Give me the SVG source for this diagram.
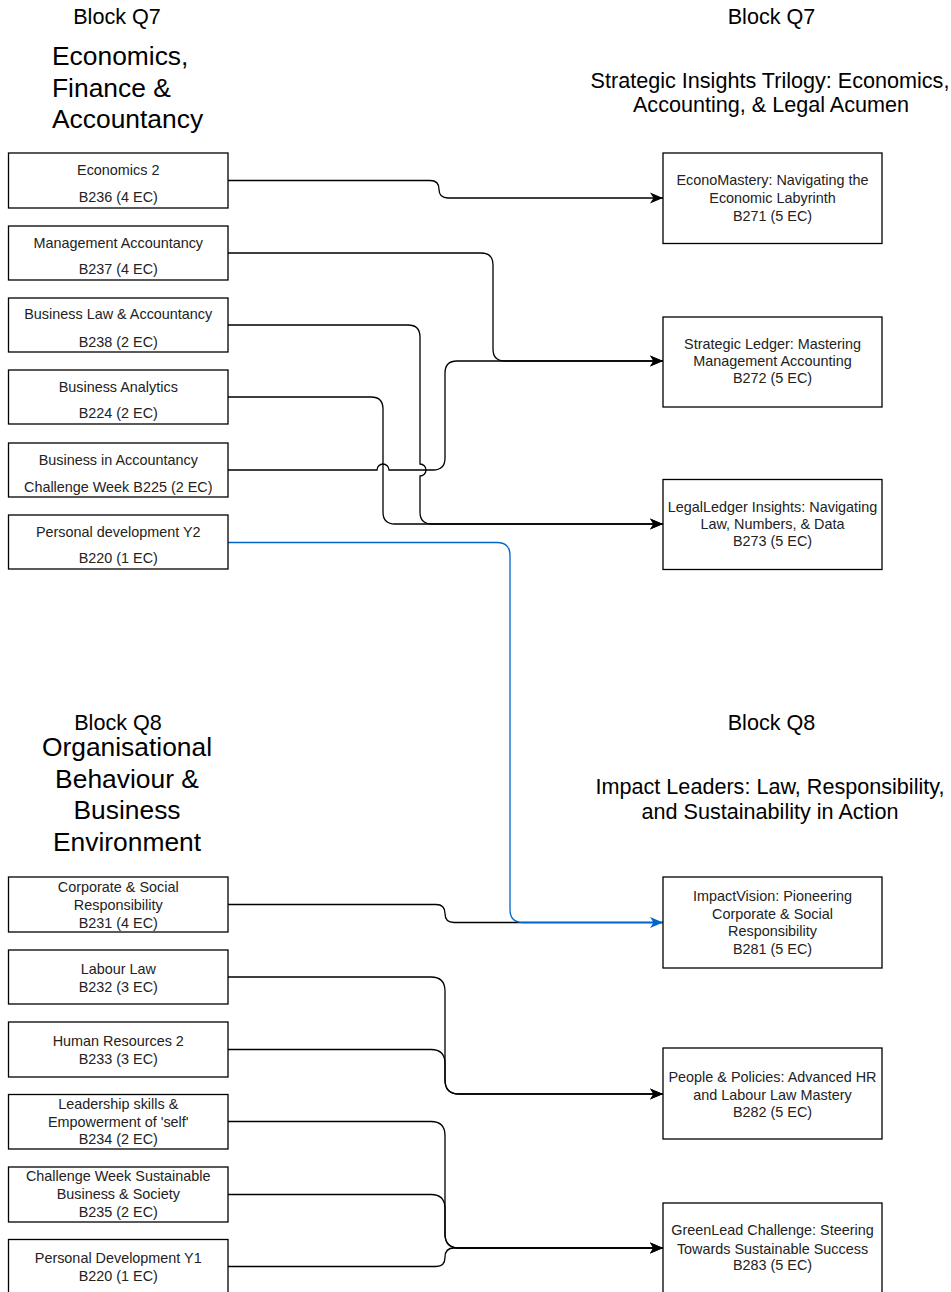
<svg xmlns="http://www.w3.org/2000/svg" width="951" height="1292" viewBox="0 0 951 1292">
<defs>
<style>
.box{fill:#fff;stroke:#000;stroke-width:1.3}
.t{font-family:"Liberation Sans",Arial,sans-serif;font-size:14.4px;fill:#222;text-anchor:middle}
.h{font-family:"Liberation Sans",Arial,sans-serif;font-size:21.6px;fill:#000;text-anchor:middle}
.big{font-family:"Liberation Sans",Arial,sans-serif;font-size:26.4px;fill:#000}
.e{fill:none;stroke:#000;stroke-width:1.3}
.eb{fill:none;stroke:#0066CC;stroke-width:1.3}
</style>
<marker id="arr" markerUnits="userSpaceOnUse" markerWidth="14" markerHeight="12" refX="13" refY="6" orient="auto">
<path d="M0,0.5 L13,6 L0,11.5 L3.5,6 Z" fill="#000"/>
</marker>
<marker id="arrb" markerUnits="userSpaceOnUse" markerWidth="14" markerHeight="12" refX="13" refY="6" orient="auto">
<path d="M0,0.5 L13,6 L0,11.5 L3.5,6 Z" fill="#0066CC"/>
</marker>
</defs>
<rect width="951" height="1292" fill="#fff"/>

<g id="titles">
<text class="h" x="117" y="23.5">Block Q7</text>
<text class="big" x="52" y="65">Economics,</text>
<text class="big" x="52" y="96.5">Finance &amp;</text>
<text class="big" x="52" y="128">Accountancy</text>
<text class="h" x="771.5" y="23.5">Block Q7</text>
<text class="h" x="770"><tspan x="770" y="87.5">Strategic Insights Trilogy: Economics,</tspan><tspan x="771" y="112">Accounting, &amp; Legal Acumen</tspan></text>
<text class="h" x="118" y="729.5">Block Q8</text>
<text class="big" text-anchor="middle"><tspan x="127" y="756">Organisational</tspan><tspan x="127" y="787.5">Behaviour &amp;</tspan><tspan x="127" y="819.3">Business</tspan><tspan x="127" y="850.7">Environment</tspan></text>
<text class="h" x="771.5" y="729.5">Block Q8</text>
<text class="h"><tspan x="770" y="793.8">Impact Leaders: Law, Responsibility,</tspan><tspan x="770" y="818.5">and Sustainability in Action</tspan></text>
</g>

<g id="connectors">
<path class="e" marker-end="url(#arr)" d="M228,180.5 H430 Q439,180.5 439,189.25 Q439,198 448,198 H663"/>
<path class="e" marker-end="url(#arr)" d="M228,253 H481 Q493,253 493,265 V349 Q493,361 505,361 H663"/>
<path class="e" marker-end="url(#arr)" d="M228,325 H408 Q420,325 420,337 V464 A6,6 0 0 1 420,476 V512 Q420,524 432,524 H663"/>
<path class="e" marker-end="url(#arr)" d="M228,397 H371 Q383,397 383,409 V512 Q383,524 395,524 H663"/>
<path class="e" marker-end="url(#arr)" d="M228,470 H377 A6,6 0 0 1 389,470 H433 Q445,470 445,458 V373 Q445,361 457,361 H663"/>
<path class="e" d="M228,904.5 H436 Q445,904.5 445,913.5 Q445,922.5 454,922.5 H663"/>
<path class="eb" marker-end="url(#arrb)" d="M228,542.5 H497 Q510,542.5 510,555.5 V909.5 Q510,922.5 523,922.5 H663"/>
<path class="e" marker-end="url(#arr)" d="M228,977 H431 Q445,977 445,991 V1080 Q445,1094 459,1094 H663"/>
<path class="e" marker-end="url(#arr)" d="M228,1049.5 H431 Q445,1049.5 445,1063.5 V1080 Q445,1094 459,1094 H663"/>
<path class="e" marker-end="url(#arr)" d="M228,1121.5 H431 Q445,1121.5 445,1135.5 V1234 Q445,1248 459,1248 H663"/>
<path class="e" marker-end="url(#arr)" d="M228,1194.5 H431 Q445,1194.5 445,1208.5 V1234 Q445,1248 459,1248 H663"/>
<path class="e" marker-end="url(#arr)" d="M228,1266.5 H436 Q445,1266.5 445,1257.25 Q445,1248 454,1248 H663"/>
</g>

<g id="n-b236"><rect class="box" x="8.5" y="153" width="219.5" height="55"/><text class="t"><tspan x="118.25" y="175">Economics 2</tspan><tspan x="118.25" y="202">B236 (4 EC)</tspan></text></g>
<g id="n-b237"><rect class="box" x="8.5" y="226" width="219.5" height="54"/><text class="t"><tspan x="118.25" y="247.5">Management Accountancy</tspan><tspan x="118.25" y="273.5">B237 (4 EC)</tspan></text></g>
<g id="n-b238"><rect class="box" x="8.5" y="298" width="219.5" height="54"/><text class="t"><tspan x="118.25" y="319">Business Law &amp; Accountancy</tspan><tspan x="118.25" y="346.5">B238 (2 EC)</tspan></text></g>
<g id="n-b224"><rect class="box" x="8.5" y="370" width="219.5" height="54"/><text class="t"><tspan x="118.25" y="392">Business Analytics</tspan><tspan x="118.25" y="418">B224 (2 EC)</tspan></text></g>
<g id="n-b225"><rect class="box" x="8.5" y="443" width="219.5" height="54"/><text class="t"><tspan x="118.25" y="465">Business in Accountancy</tspan><tspan x="118.25" y="491.5">Challenge Week B225 (2 EC)</tspan></text></g>
<g id="n-b220y2"><rect class="box" x="8.5" y="515" width="219.5" height="54"/><text class="t"><tspan x="118.25" y="536.5">Personal development Y2</tspan><tspan x="118.25" y="562.5">B220 (1 EC)</tspan></text></g>

<g id="n-b271"><rect class="box" x="663" y="153" width="219" height="90.5"/><text class="t"><tspan x="772.5" y="185">EconoMastery: Navigating the</tspan><tspan x="772.5" y="203">Economic Labyrinth</tspan><tspan x="772.5" y="220.5">B271 (5 EC)</tspan></text></g>
<g id="n-b272"><rect class="box" x="663" y="317" width="219" height="90"/><text class="t"><tspan x="772.5" y="348.5">Strategic Ledger: Mastering</tspan><tspan x="772.5" y="366">Management Accounting</tspan><tspan x="772.5" y="383">B272 (5 EC)</tspan></text></g>
<g id="n-b273"><rect class="box" x="663" y="479.5" width="219" height="90"/><text class="t"><tspan x="772.5" y="511.5">LegalLedger Insights: Navigating</tspan><tspan x="772.5" y="529">Law, Numbers, &amp; Data</tspan><tspan x="772.5" y="545.5">B273 (5 EC)</tspan></text></g>

<g id="n-b231"><rect class="box" x="8.5" y="877" width="219.5" height="55"/><text class="t"><tspan x="118.25" y="891.5">Corporate &amp; Social</tspan><tspan x="118.25" y="909.5">Responsibility</tspan><tspan x="118.25" y="927.5">B231 (4 EC)</tspan></text></g>
<g id="n-b232"><rect class="box" x="8.5" y="950" width="219.5" height="54"/><text class="t"><tspan x="118.25" y="973.5">Labour Law</tspan><tspan x="118.25" y="991.5">B232 (3 EC)</tspan></text></g>
<g id="n-b233"><rect class="box" x="8.5" y="1022" width="219.5" height="55"/><text class="t"><tspan x="118.25" y="1045.5">Human Resources 2</tspan><tspan x="118.25" y="1064">B233 (3 EC)</tspan></text></g>
<g id="n-b234"><rect class="box" x="8.5" y="1094.5" width="219.5" height="54.5"/><text class="t"><tspan x="118.25" y="1108.5">Leadership skills &amp;</tspan><tspan x="118.25" y="1126.5">Empowerment of 'self'</tspan><tspan x="118.25" y="1144">B234 (2 EC)</tspan></text></g>
<g id="n-b235"><rect class="box" x="8.5" y="1167" width="219.5" height="55"/><text class="t"><tspan x="118.25" y="1181">Challenge Week Sustainable</tspan><tspan x="118.25" y="1199">Business &amp; Society</tspan><tspan x="118.25" y="1216.5">B235 (2 EC)</tspan></text></g>
<g id="n-b220y1"><rect class="box" x="8.5" y="1239.5" width="219.5" height="55"/><text class="t"><tspan x="118.25" y="1263">Personal Development Y1</tspan><tspan x="118.25" y="1281">B220 (1 EC)</tspan></text></g>

<g id="n-b281"><rect class="box" x="663" y="877" width="219" height="91"/><text class="t"><tspan x="772.5" y="900.5">ImpactVision: Pioneering</tspan><tspan x="772.5" y="918.5">Corporate &amp; Social</tspan><tspan x="772.5" y="936">Responsibility</tspan><tspan x="772.5" y="954">B281 (5 EC)</tspan></text></g>
<g id="n-b282"><rect class="box" x="663" y="1048" width="219" height="91"/><text class="t"><tspan x="772.5" y="1081.5">People &amp; Policies: Advanced HR</tspan><tspan x="772.5" y="1099.5">and Labour Law Mastery</tspan><tspan x="772.5" y="1117">B282 (5 EC)</tspan></text></g>
<g id="n-b283"><rect class="box" x="663" y="1203" width="219" height="91"/><text class="t"><tspan x="772.5" y="1235">GreenLead Challenge: Steering</tspan><tspan x="772.5" y="1253.5">Towards Sustainable Success</tspan><tspan x="772.5" y="1270">B283 (5 EC)</tspan></text></g>
</svg>
